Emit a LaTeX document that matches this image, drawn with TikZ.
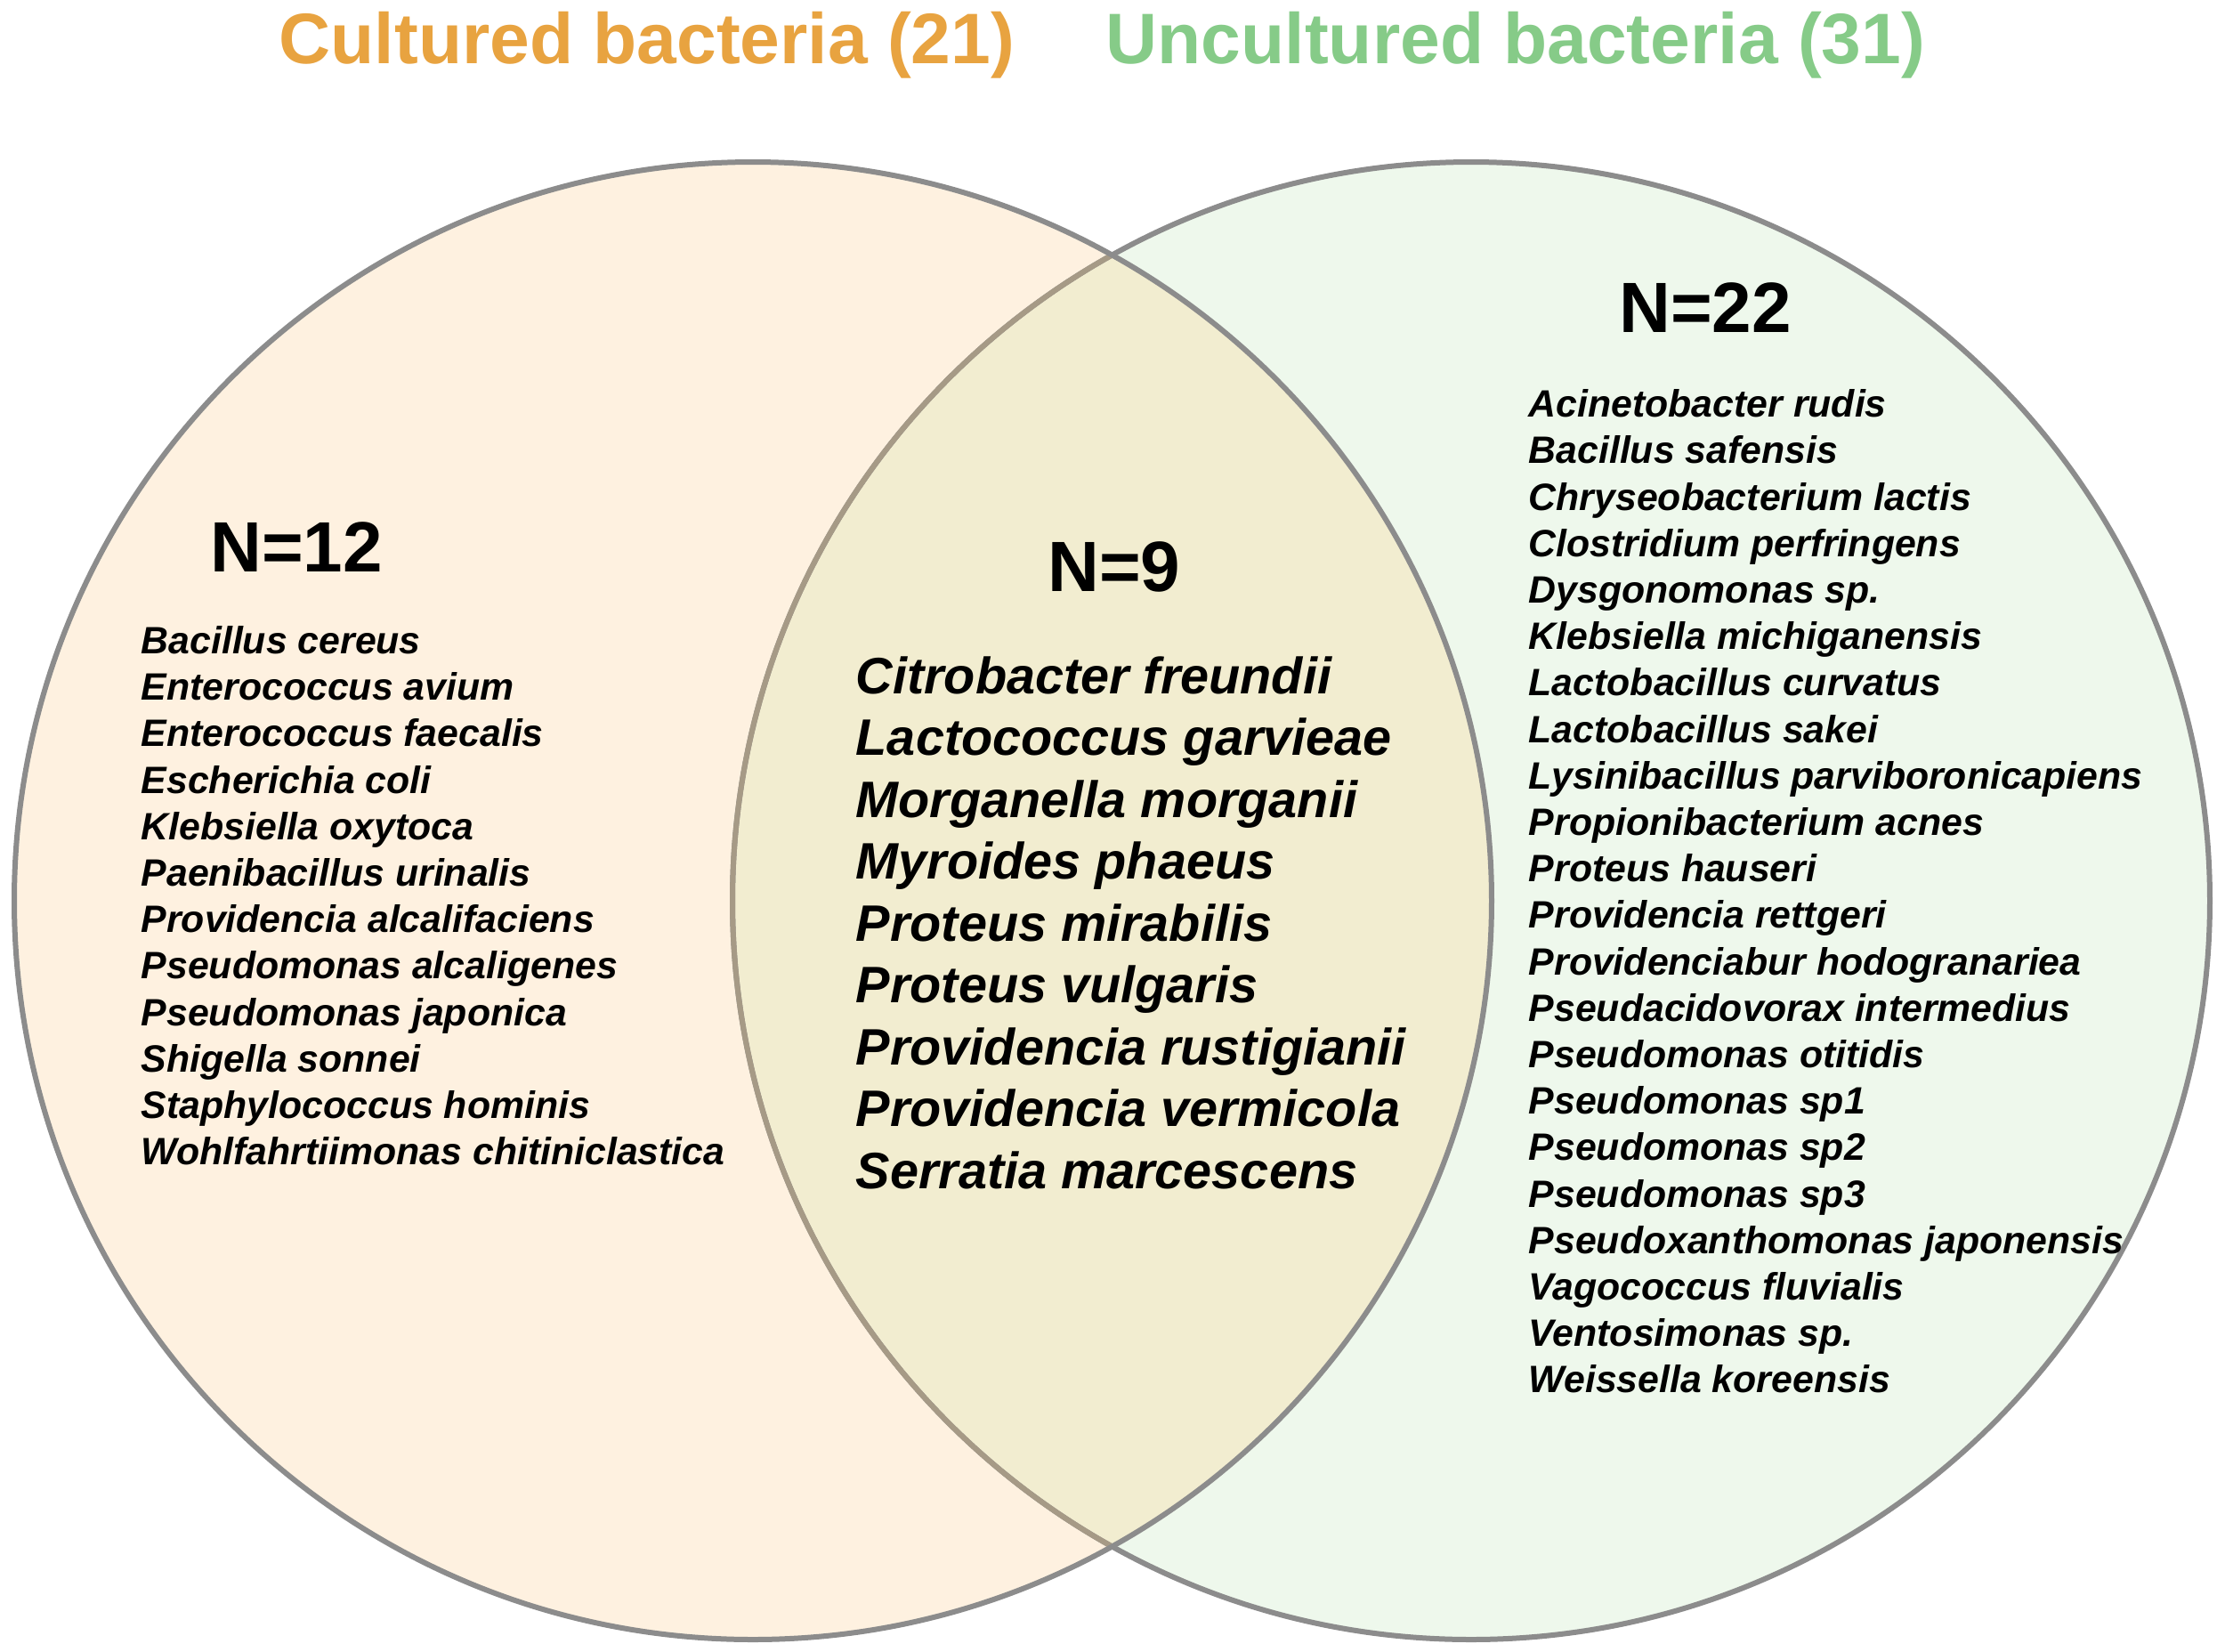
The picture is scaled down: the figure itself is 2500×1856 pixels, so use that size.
\documentclass[tikz,border=0pt]{standalone}
\usepackage{fontspec}
\setmainfont{Liberation Sans}
\begin{document}
\begin{tikzpicture}[x=0.25pt,y=-0.25pt]
\definecolor{ringgrey}{HTML}{8C8C8C}
\definecolor{ringtan}{HTML}{A69A86}
\definecolor{peachfill}{HTML}{FEF1E0}
\definecolor{greenfill}{HTML}{EEF8EC}
\definecolor{overlapfill}{HTML}{F2EDD0}
\definecolor{titleorange}{HTML}{E8A340}
\definecolor{titlegreen}{HTML}{86CB88}
\tikzset{
  ring/.style={line width=1.5pt},
  titletext/.style={font=\bfseries\fontsize{20.1}{24}\selectfont, inner sep=0pt, anchor=base},
  counttext/.style={font=\bfseries\fontsize{20}{24}\selectfont, inner sep=0pt, anchor=base},
  sidelist/.style={font=\bfseries\itshape\fontsize{10.7}{13}\selectfont, inner sep=0pt, anchor=base west},
  midlist/.style={font=\bfseries\itshape\fontsize{14.4}{17}\selectfont, inner sep=0pt, anchor=base west}
}
\useasboundingbox (0,0) rectangle (2500,1856);
\coordinate (cl) at (846,1012);
\coordinate (cr) at (1653,1012);
% fills
\fill[greenfill] (cr) circle[radius=207.5pt];
\fill[peachfill] (cl) circle[radius=207.5pt];
\begin{scope}
  \clip (cl) circle[radius=207.5pt];
  \fill[overlapfill] (cr) circle[radius=207.5pt];
\end{scope}
% outlines
\draw[ring, ringgrey] (cr) circle[radius=207.5pt];
\begin{scope}
  \clip (cl) circle[radius=207.5pt];
  \draw[ring, ringtan] (cr) circle[radius=207.5pt];
\end{scope}
\draw[ring, ringgrey] (cl) circle[radius=207.5pt];
% titles
\node[titletext, text=titleorange] (tcult) at (727,71) {Cultured bacteria (21)};
\node[titletext, text=titlegreen] (tuncult) at (1703,71) {Uncultured bacteria (31)};
% counts
\node[counttext] (nleft) at (333,642) {N=12};
\node[counttext] (nmid) at (1252,664) {N=9};
\node[counttext] (nright) at (1916,373) {N=22};
% left list
\foreach \name [count=\i from 0] in {Bacillus cereus, Enterococcus avium, Enterococcus faecalis, Escherichia coli, Klebsiella oxytoca, Paenibacillus urinalis, Providencia alcalifaciens, Pseudomonas alcaligenes, Pseudomonas japonica, Shigella sonnei, Staphylococcus hominis, Wohlfahrtiimonas chitiniclastica}
  \node[sidelist] (left\i) at (158,734.5+52.2*\i) {\name};
% middle list
\foreach \name [count=\i from 0] in {Citrobacter freundii, Lactococcus garvieae, Morganella morganii, Myroides phaeus, Proteus mirabilis, Proteus vulgaris, Providencia rustigianii, Providencia vermicola, Serratia marcescens}
  \node[midlist] (mid\i) at (961,779+69.5*\i) {\name};
% right list
\foreach \name [count=\i from 0] in {Acinetobacter rudis, Bacillus safensis, Chryseobacterium lactis, Clostridium perfringens, Dysgonomonas sp., Klebsiella michiganensis, Lactobacillus curvatus, Lactobacillus sakei, Lysinibacillus parviboronicapiens, Propionibacterium acnes, Proteus hauseri, Providencia rettgeri, Providenciabur hodogranariea, Pseudacidovorax intermedius, Pseudomonas otitidis, Pseudomonas sp1, Pseudomonas sp2, Pseudomonas sp3, Pseudoxanthomonas japonensis, Vagococcus fluvialis, Ventosimonas sp., Weissella koreensis}
  \node[sidelist] (right\i) at (1717,468.6+52.2*\i) {\name};
\end{tikzpicture}
\end{document}
